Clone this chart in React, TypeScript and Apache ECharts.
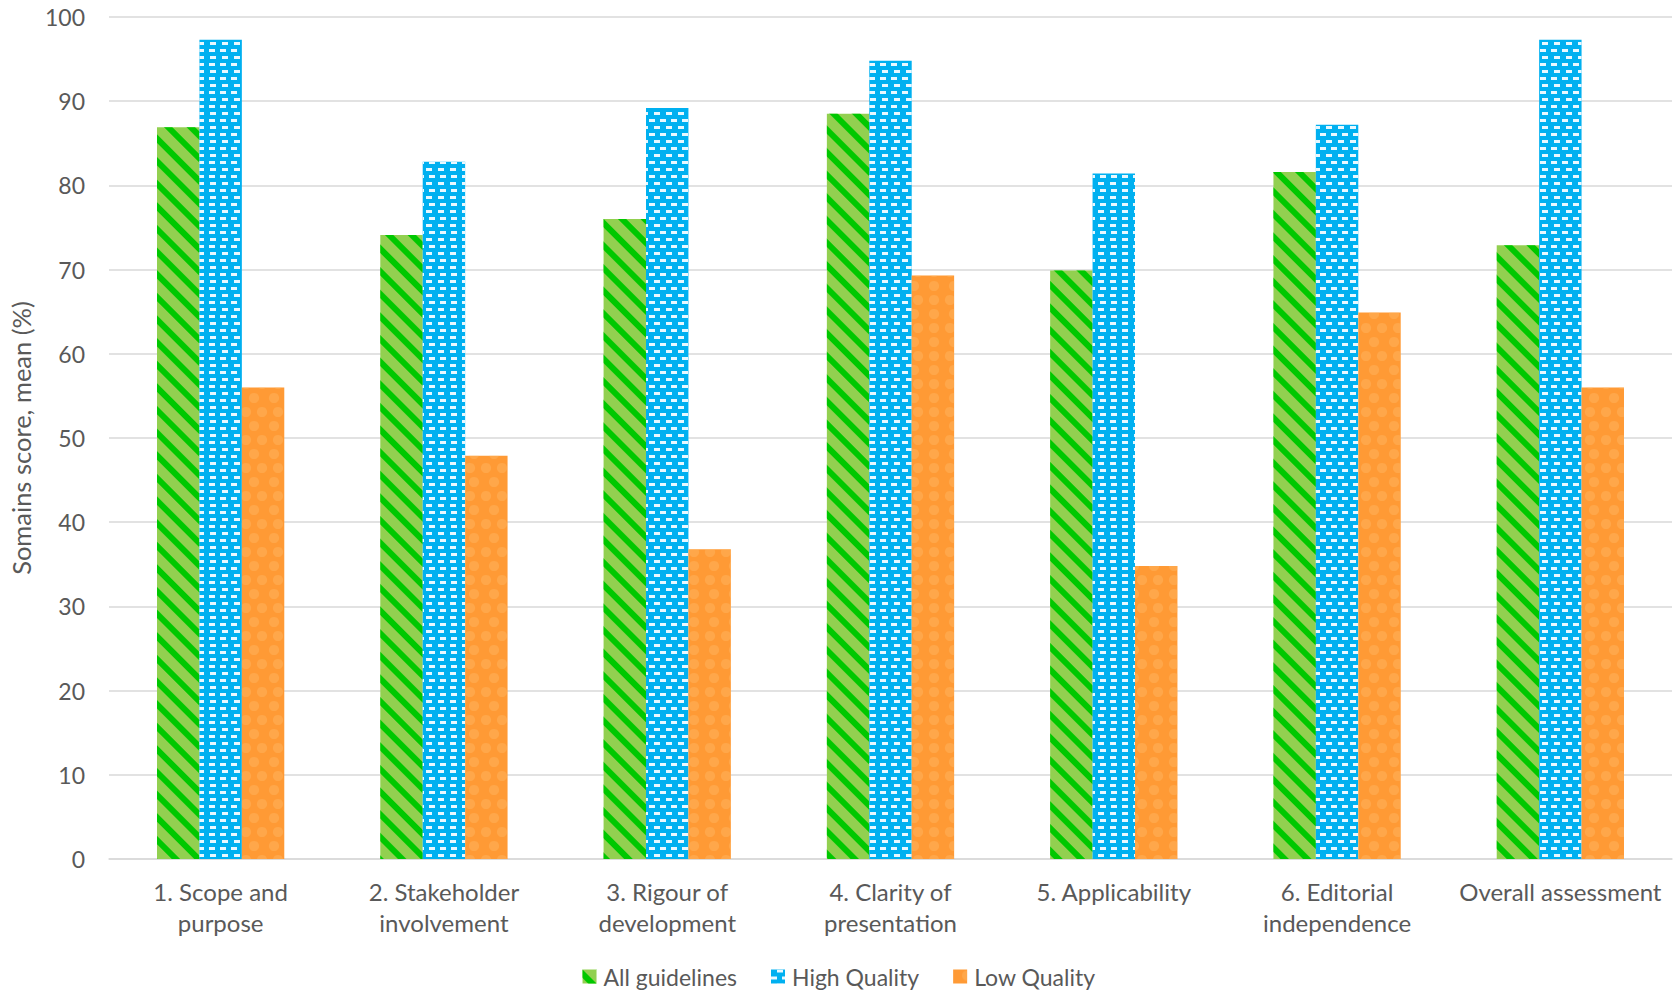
import React, { useEffect, useRef } from "react";
import * as echarts from "echarts";

const categories = [
  "1. Scope and\npurpose",
  "2. Stakeholder\ninvolvement",
  "3. Rigour of\ndevelopment",
  "4. Clarity of\npresentation",
  "5. Applicability",
  "6. Editorial\nindependence",
  "Overall assessment",
];
const allGuidelines = [86.9, 74.1, 76.0, 88.5, 69.9, 81.6, 72.9];
const highQuality = [97.3, 82.8, 89.2, 94.8, 81.4, 87.2, 97.3];
const lowQuality = [56.0, 47.9, 36.8, 69.3, 34.8, 64.9, 56.0];
const yTicks = { min: 0, max: 100, interval: 10 };

const FONT = "Lato, 'Open Sans', sans-serif";
const TEXT = "#595959";

export default function App() {
  const ref = useRef<HTMLDivElement>(null);
  useEffect(() => {
    document.body.style.margin = "0";
    const chart = echarts.init(ref.current!, null, { renderer: "svg" });
    chart.setOption({
      animation: false,
      textStyle: { fontFamily: FONT, color: TEXT },
      grid: { left: 107, right: 6, top: 17, bottom: 140 },
      legend: {
        bottom: 6,
        left: "center",
        itemWidth: 14,
        itemHeight: 14,
        itemGap: 34,
        icon: "rect",
        textStyle: { fontFamily: FONT, fontSize: 23, color: TEXT, padding: [0, 0, 0, 2] },
        data: ["All guidelines", "High Quality", "Low Quality"],
      },
      xAxis: {
        type: "category",
        data: categories,
        axisLine: { lineStyle: { color: "#D9D9D9", width: 1.5 } },
        axisTick: { show: false },
        axisLabel: {
          fontFamily: FONT,
          fontSize: 24,
          color: TEXT,
          margin: 17,
          lineHeight: 31,
          interval: 0,
        },
      },
      yAxis: {
        type: "value",
        min: yTicks.min,
        max: yTicks.max,
        interval: yTicks.interval,
        name: "Somains score, mean (%)",
        nameLocation: "middle",
        nameGap: 75,
        nameTextStyle: { fontFamily: FONT, fontSize: 25.5, color: TEXT },
        axisLine: { show: false },
        axisTick: { show: false },
        splitLine: { lineStyle: { color: "#D9D9D9", width: 1.5 } },
        axisLabel: { fontFamily: FONT, fontSize: 23, color: TEXT, margin: 24 },
      },
      series: [
        {
          name: "All guidelines",
          type: "bar",
          data: allGuidelines,
          barWidth: "19%",
          barGap: "0%",
          itemStyle: {
            color: "#92D050",
            decal: {
              symbol: "rect",
              symbolSize: 1,
              color: "#00C800",
              dashArrayX: [1, 0],
              dashArrayY: [5.5, 9.5],
              rotation: Math.PI / 4,
            },
          },
        },
        {
          name: "High Quality",
          type: "bar",
          data: highQuality,
          barWidth: "19%",
          barGap: "0%",
          itemStyle: {
            color: "#00B0F0",
            decal: {
              symbol: "rect",
              symbolSize: 1,
              color: "#E8F8FF",
              dashArrayX: [
                [5.5, 5],
                [0, 5.25, 5.5, 0],
              ],
              dashArrayY: [2.4, 3.3],
              rotation: 0,
            },
          },
        },
        {
          name: "Low Quality",
          type: "bar",
          data: lowQuality,
          barWidth: "19%",
          barGap: "0%",
          itemStyle: {
            color: "#FF9A35",
            decal: {
              symbol: "circle",
              symbolSize: 0.85,
              color: "rgba(255,190,110,0.35)",
              dashArrayX: [
                [12, 4],
                [0, 8, 12, 0],
              ],
              dashArrayY: [12, 2],
              rotation: 0,
            },
          },
        },
      ],
    });
    return () => chart.dispose();
  }, []);
  return <div ref={ref} style={{ width: 1678, height: 999 }} />;
}
